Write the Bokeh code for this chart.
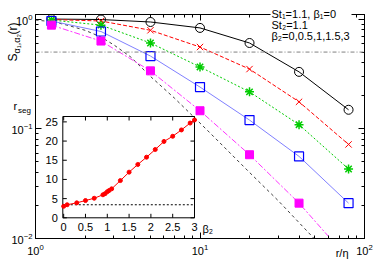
import math
from bokeh.plotting import figure
from bokeh.models import (Range1d, LinearScale, LogAxis, FixedTicker,
                          LogTickFormatter, Span)
from bokeh.core.properties import value
from bokeh.embed import file_html
from bokeh.resources import INLINE

# ---------------- data ----------------
r_eta = [1.25, 2.5, 5, 10, 20, 40, 80]
s_beta0 = [1.0, 0.99, 0.94, 0.83, 0.605, 0.33, 0.149]
s_beta05 = [0.99, 0.96, 0.79, 0.556, 0.35, 0.176, 0.072]
s_beta1 = [0.98, 0.88, 0.605, 0.366, 0.217, 0.109, 0.043]
s_beta15 = [0.96, 0.77, 0.46, 0.24, 0.12, 0.056, 0.021]
s_beta3 = [0.88, 0.63, 0.337, 0.146, 0.058, 0.021, 0.0065]

ref_r = [1.0, 1.3, 1.6, 2.0, 2.5, 3.0, 3.8, 5, 7, 11, 20, 30, 50, 70]
ref_s = [0.98, 0.94, 0.87, 0.79, 0.686, 0.58, 0.45, 0.30, 0.19, 0.098,
         0.040, 0.022, 0.0098, 0.0058]
half_level = 0.5

beta2 = [0, 0.08, 0.3, 0.5, 0.7, 0.9, 0.95, 1.0, 1.04, 1.1, 1.3, 1.5,
         1.7, 1.9, 2.1, 2.3, 2.5, 2.7, 2.9, 3.0]
r_seg = [3.0, 3.4, 3.9, 4.5, 5.1, 6.0, 6.3, 6.8, 7.1, 7.55, 9.7, 11.9,
         13.9, 15.8, 17.8, 19.9, 21.25, 22.9, 24.7, 25.5]
r_seg_level = 3.4

x_major = [1, 10, 100]
y_major = [0.01, 0.1, 1]
x_minor = [m * d for d in (1, 10) for m in range(2, 10)]
y_minor = [m * d for d in (0.01, 0.1) for m in range(2, 10)]

inset_xticks = [0, 0.5, 1, 1.5, 2, 2.5, 3]
inset_xlabels = ["0", "0.5", "1", "1.5", "2", "2.5", "3"]
inset_yticks = [0, 5, 10, 15, 20, 25]
inset_ylabels = ["0", "5", "10", "15", "20", "25"]
inset_xlim = (-0.02, 3.0)
inset_ylim = (0.0, 26.4)

legend_lines = ["St\u2081=1.1, \u03b2\u2081=0", "St\u2082=1.1",
                "\u03b2\u2082=0,0.5,1,1.5,3"]

# ---------------- layout ----------------
W, H = 374, 262
ML, MT, MR, MB = 35, 14, 10, 24
FW, FH = W - ML - MR, H - MT - MB
FONT = "Liberation Sans"

p = figure(width=W, height=H, x_axis_type="log", y_axis_type="log",
           x_range=Range1d(1, 100), y_range=Range1d(0.01, 1.1),
           output_backend="svg", toolbar_location=None,
           min_border_left=ML, min_border_right=MR,
           min_border_top=MT, min_border_bottom=MB)
p.grid.visible = False
p.outline_line_color = "black"
p.outline_line_width = 1
p.background_fill_color = "white"
p.border_fill_color = "white"


def style_axis(ax, labels=True, standoff=3):
    ax.major_tick_in = 6
    ax.major_tick_out = 0
    ax.minor_tick_in = 3
    ax.minor_tick_out = 0
    ax.axis_line_color = "black"
    ax.major_tick_line_color = "black"
    ax.minor_tick_line_color = "black"
    ax.major_label_text_font = FONT
    ax.major_label_text_color = "black"
    if labels:
        ax.major_label_text_font_size = "11px"
        ax.major_label_standoff = standoff
    else:
        ax.major_label_text_font_size = "1px"
        ax.major_label_text_alpha = 0
        ax.major_label_standoff = 0


p.xaxis[0].ticker = FixedTicker(ticks=x_major, minor_ticks=x_minor)
p.xaxis[0].formatter = LogTickFormatter()
p.yaxis[0].ticker = FixedTicker(ticks=y_major, minor_ticks=y_minor)
p.yaxis[0].formatter = LogTickFormatter()
style_axis(p.xaxis[0], standoff=5)
style_axis(p.yaxis[0], standoff=3)

ax_top = LogAxis(ticker=FixedTicker(ticks=x_major, minor_ticks=x_minor))
style_axis(ax_top, labels=False)
p.add_layout(ax_top, "above")
ax_right = LogAxis(ticker=FixedTicker(ticks=y_major, minor_ticks=y_minor))
style_axis(ax_right, labels=False)
p.add_layout(ax_right, "right")

# ---------------- main curves ----------------
p.add_layout(Span(location=half_level, dimension="width", line_color="#808080",
                  line_dash="4 2 1 2", line_width=1))
p.line(ref_r, ref_s, line_color="#404040", line_dash="3 3", line_width=1)

p.line(r_eta, s_beta0, line_color="black", line_width=1)
p.scatter(r_eta, s_beta0, marker="circle", size=9, fill_color=None,
          line_color="black", line_width=1)

p.line(r_eta, s_beta05, line_color="#ff0000", line_dash="4 2", line_width=1)
p.scatter(r_eta, s_beta05, marker="x", size=9, line_color="#ff0000", line_width=1)

p.line(r_eta, s_beta1, line_color="#00cc00", line_dash="2 2", line_width=1)
p.scatter(r_eta, s_beta1, marker="asterisk", size=9, line_color="#00cc00",
          line_width=1.5)

p.line(r_eta, s_beta15, line_color="#8080ff", line_width=1)
p.scatter(r_eta, s_beta15, marker="square", size=9, fill_color=None,
          line_color="#0000ff", line_width=1.2)

p.line(r_eta, s_beta3, line_color="#ff33ff", line_dash="6 2 2 2", line_width=1)
p.scatter(r_eta, s_beta3, marker="square", size=8, fill_color="#ff00ff",
          line_color="#ff00ff")

# ---------------- inset via extra linear ranges ----------------
fxl, fxr = 0.0830, 0.4833
fyb, fyt = 0.0924, 0.5446
kx = (inset_xlim[1] - inset_xlim[0]) / (fxr - fxl)
ky = (inset_ylim[1] - inset_ylim[0]) / (fyt - fyb)
x0 = inset_xlim[0] - fxl * kx
y0 = inset_ylim[0] - fyb * ky
p.extra_x_ranges = {"inset": Range1d(x0, x0 + kx)}
p.extra_y_ranges = {"inset": Range1d(y0, y0 + ky)}
p.extra_x_scales = {"inset": LinearScale()}
p.extra_y_scales = {"inset": LinearScale()}
R = dict(x_range_name="inset", y_range_name="inset")

p.quad(left=inset_xlim[0], right=inset_xlim[1], bottom=inset_ylim[0],
       top=inset_ylim[1], fill_color="white", line_color="black",
       line_width=1, **R)

tlx = 4 * kx / FW
tly = 4 * ky / FH
n = len(inset_xticks)
p.segment(x0=inset_xticks, x1=inset_xticks, y0=[inset_ylim[0]] * n,
          y1=[inset_ylim[0] + tly] * n, line_color="black", **R)
p.segment(x0=inset_xticks, x1=inset_xticks, y0=[inset_ylim[1]] * n,
          y1=[inset_ylim[1] - tly] * n, line_color="black", **R)
m = len(inset_yticks)
p.segment(x0=[inset_xlim[0]] * m, x1=[inset_xlim[0] + tlx] * m,
          y0=inset_yticks, y1=inset_yticks, line_color="black", **R)
p.segment(x0=[inset_xlim[1]] * m, x1=[inset_xlim[1] - tlx] * m,
          y0=inset_yticks, y1=inset_yticks, line_color="black", **R)

p.text(x=inset_xticks, y=[inset_ylim[0]] * n, text=inset_xlabels,
       text_align="center", text_baseline="top", y_offset=5,
       text_font=value(FONT), text_font_size=value("11px"),
       text_color="black", **R)
p.text(x=[inset_xlim[0]] * m, y=inset_yticks, text=inset_ylabels,
       text_align="right", text_baseline="middle", x_offset=-5,
       text_font=value(FONT), text_font_size=value("11px"),
       text_color="black", **R)

p.line(x=[inset_xlim[0], inset_xlim[1]], y=[r_seg_level, r_seg_level],
       line_color="black", line_dash="2 2", line_width=1, **R)
p.line(beta2, r_seg, line_color="#ff0000", line_width=1, **R)
p.scatter(beta2, r_seg, marker="circle", size=4, fill_color="#ff0000",
          line_color="#ff0000", **R)

# ---------------- transparent overlay (pixel coordinates) for texts ----------
ov = figure(width=W, height=H, x_range=Range1d(0, W), y_range=Range1d(0, H),
            x_axis_type=None, y_axis_type=None, output_backend="svg",
            toolbar_location=None, min_border=0, margin=(-H, 0, 0, 0))
ov.grid.visible = False
ov.outline_line_color = None
ov.background_fill_color = None
ov.border_fill_color = None

# white key box behind the first legend line (hides the top frame line)
ov.quad(left=[270], right=[351], top=[H - 8], bottom=[H - 19],
        fill_color="white", line_color=None)


def txt(texts, X, Y, size="11px", align="left", angle=0.0):
    ov.text(x=X, y=[H - yy for yy in Y], text=texts, angle=angle,
            text_align=align, text_baseline="middle",
            text_font=value(FONT), text_font_size=value(size),
            text_color="black")


txt(legend_lines, [271] * 3, [13.5, 24.5, 35.5])

txt(["S", "(r)"], [12.5, 12.5], [61, 34], size="12px", angle=math.pi / 2)
txt(["\u03b1\u2081,\u03b1\u2082"], [16], [53], size="9px", angle=math.pi / 2)

txt(["r/\u03b7"], [348], [252], align="right")

txt(["r"], [13], [105.5])
txt(["seg"], [17.5], [109.5], size="8px")
txt(["\u03b2\u2082"], [202], [228.5])

# two independent roots: the text overlay is pulled up over the chart
open("out.html", "w").write(file_html([p, ov], INLINE))
